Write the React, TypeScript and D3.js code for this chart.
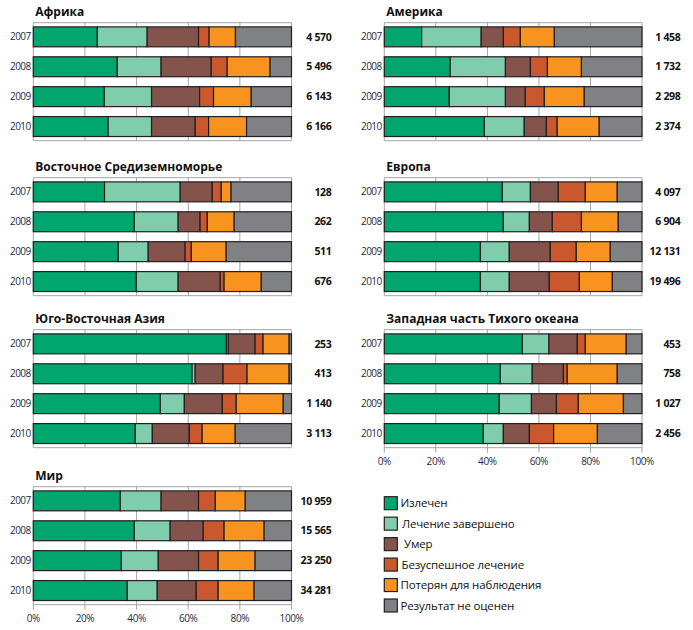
import React from "react";
import * as d3 from "d3";

const years = ["2007", "2008", "2009", "2010"];
const outcomes = [
  "Излечен",
  "Лечение завершено",
  "Умер",
  "Безуспешное лечение",
  "Потерян для наблюдения",
  "Результат не оценен",
];
const colors = ["#00a66e", "#80cdae", "#84534c", "#c9582e", "#f7931e", "#808184"];
const ticks = [0, 20, 40, 60, 80, 100];

const africa = [
  [24.8, 19.3, 19.9, 4.1, 10.2, 21.7],
  [32.5, 17.0, 19.4, 6.2, 16.6, 8.3],
  [27.5, 18.3, 18.6, 5.4, 14.6, 15.6],
  [29.0, 16.8, 16.9, 5.2, 14.7, 17.4],
];
const africaN = ["4 570", "5 496", "6 143", "6 166"];

const america = [
  [14.5, 23.1, 8.6, 6.6, 13.2, 34.0],
  [25.6, 21.4, 9.7, 6.6, 13.2, 23.5],
  [25.2, 21.8, 7.7, 7.4, 15.5, 22.4],
  [38.8, 15.5, 8.6, 4.2, 16.3, 16.6],
];
const americaN = ["1 458", "1 732", "2 298", "2 374"];

const emro = [
  [27.6, 29.3, 12.4, 3.5, 3.8, 23.4],
  [39.1, 17.0, 8.5, 2.8, 10.4, 22.2],
  [32.9, 11.6, 14.3, 2.4, 13.5, 25.3],
  [39.9, 16.2, 16.3, 1.5, 14.4, 11.7],
];
const emroN = ["128", "262", "511", "676"];

const europe = [
  [45.8, 10.9, 10.8, 10.5, 12.4, 9.6],
  [46.2, 10.1, 8.9, 11.3, 14.3, 9.2],
  [37.3, 11.2, 15.9, 10.1, 13.2, 12.3],
  [37.3, 11.2, 15.5, 11.7, 12.8, 11.5],
];
const europeN = ["4 097", "6 904", "12 131", "19 496"];

const searo = [
  [74.8, 0.7, 10.4, 3.1, 10.1, 0.9],
  [61.5, 1.2, 10.8, 9.3, 16.3, 0.9],
  [49.2, 9.3, 14.7, 5.4, 18.2, 3.2],
  [39.5, 6.6, 14.3, 5.0, 12.8, 21.8],
];
const searoN = ["253", "413", "1 140", "3 113"];

const wpro = [
  [53.6, 10.3, 11.0, 3.1, 15.9, 6.1],
  [45.0, 12.4, 12.1, 1.5, 19.4, 9.6],
  [44.6, 12.5, 9.7, 8.5, 17.5, 7.2],
  [38.4, 7.8, 10.1, 9.4, 17.0, 17.3],
];
const wproN = ["453", "758", "1 027", "2 456"];

const world = [
  [33.7, 15.8, 14.5, 6.5, 11.6, 17.9],
  [39.1, 13.9, 12.8, 8.1, 15.5, 10.6],
  [34.1, 14.3, 15.6, 7.6, 14.3, 14.1],
  [36.4, 11.6, 15.1, 8.5, 13.9, 14.5],
];
const worldN = ["10 959", "15 565", "23 250", "34 281"];

const FONT = "'Open Sans', 'DejaVu Sans', sans-serif";
const TXT = "#1f2a44";

type PanelProps = {
  title: string;
  data: number[][];
  counts: string[];
  x0: number;
  x1: number;
  top: number;
  axis: boolean;
  countX: number;
};

function Panel({ title, data, counts, x0, x1, top, axis, countX }: PanelProps) {
  const x = d3.scaleLinear().domain([0, 100]).range([x0, x1]);
  const h = 118;
  const y = d3
    .scaleBand<string>()
    .domain(years)
    .range([top, top + h])
    .paddingInner(1 / 3)
    .paddingOuter(0.14);
  const grid = "#a6a6a6";
  return (
    <g>
      <text x={x0 + 2} y={top - 6.5} fontFamily={FONT} fontWeight={700} fontSize={12} fill="#111">
        {title}
      </text>
      {ticks.map((t) => (
        <line key={t} x1={x(t)} x2={x(t)} y1={top} y2={top + h + (axis ? 5 : 0)} stroke={grid} strokeWidth={1} />
      ))}
      <line x1={x0} x2={x1} y1={top} y2={top} stroke={grid} strokeWidth={1} />
      <line x1={x0} x2={x1} y1={top + h} y2={top + h} stroke={grid} strokeWidth={1} />
      {years.map((yr, i) => {
        const stack = d3.cumsum(data[i]);
        const total = stack[stack.length - 1];
        const sc = 100 / total;
        const yy = y(yr)!;
        return (
          <g key={yr}>
            {data[i].map((v, j) => {
              const s = (j === 0 ? 0 : stack[j - 1]) * sc;
              const e = stack[j] * sc;
              return (
                <rect
                  key={j}
                  x={x(s)}
                  y={yy}
                  width={x(e) - x(s)}
                  height={y.bandwidth()}
                  fill={colors[j]}
                  stroke="#231f20"
                  strokeWidth={1.2}
                />
              );
            })}
            <text
              x={x0 - 2.5}
              y={yy + y.bandwidth() / 2}
              dy="0.35em"
              textAnchor="end"
              fontFamily={FONT}
              fontSize={10}
              letterSpacing={-0.5}
              fill={TXT}
            >
              {yr}
            </text>
            <text
              x={countX}
              y={yy + y.bandwidth() / 2}
              dy="0.35em"
              textAnchor="end"
              fontFamily={FONT}
              fontWeight={700}
              fontSize={10.5}
              letterSpacing={-0.3}
              fill="#111"
            >
              {counts[i]}
            </text>
          </g>
        );
      })}
      {axis &&
        ticks.map((t) => (
          <text
            key={"l" + t}
            x={x(t)}
            y={top + h + 14}
            dy="0.35em"
            textAnchor="middle"
            fontFamily={FONT}
            fontSize={10}
            letterSpacing={-0.4}
            fill={TXT}
          >
            {t + "%"}
          </text>
        ))}
    </g>
  );
}

export default function App() {
  const L0 = 33.3,
    L1 = 291.5,
    R0 = 384.3,
    R1 = 642;
  const legendY = d3.scaleLinear().domain([0, 5]).range([496.7, 599]);
  const legendDx = [0, 1.5, 3.5, 1, 0, 0];
  return (
    <svg width={693} height={630} style={{ position: "absolute", left: 0, top: 0, background: "#fff" }}>
      <Panel title="Африка" data={africa} counts={africaN} x0={L0} x1={L1} top={22.7} axis={false} countX={331.5} />
      <Panel title="Америка" data={america} counts={americaN} x0={R0} x1={R1} top={22.7} axis={false} countX={680.5} />
      <Panel title="Восточное Средиземноморье" data={emro} counts={emroN} x0={L0} x1={L1} top={177.7} axis={false} countX={331.5} />
      <Panel title="Европа" data={europe} counts={europeN} x0={R0} x1={R1} top={177.7} axis={false} countX={680.5} />
      <Panel title="Юго-Восточная Азия" data={searo} counts={searoN} x0={L0} x1={L1} top={329.7} axis={false} countX={331.5} />
      <Panel title="Западная часть Тихого океана" data={wpro} counts={wproN} x0={R0} x1={R1} top={329.7} axis={true} countX={680.5} />
      <Panel title="Мир" data={world} counts={worldN} x0={L0} x1={L1} top={486.7} axis={true} countX={331.5} />
      {outcomes.map((o, i) => (
        <g key={o}>
          <rect x={384.3} y={legendY(i)} width={13} height={13} fill={colors[i]} stroke="#231f20" strokeWidth={1.2} />
          <text x={400.5 + legendDx[i]} y={legendY(i) + 6.5} dy="0.35em" fontFamily={FONT} fontSize={11.5} letterSpacing={-0.15} fill="#111">
            {o}
          </text>
        </g>
      ))}
    </svg>
  );
}
